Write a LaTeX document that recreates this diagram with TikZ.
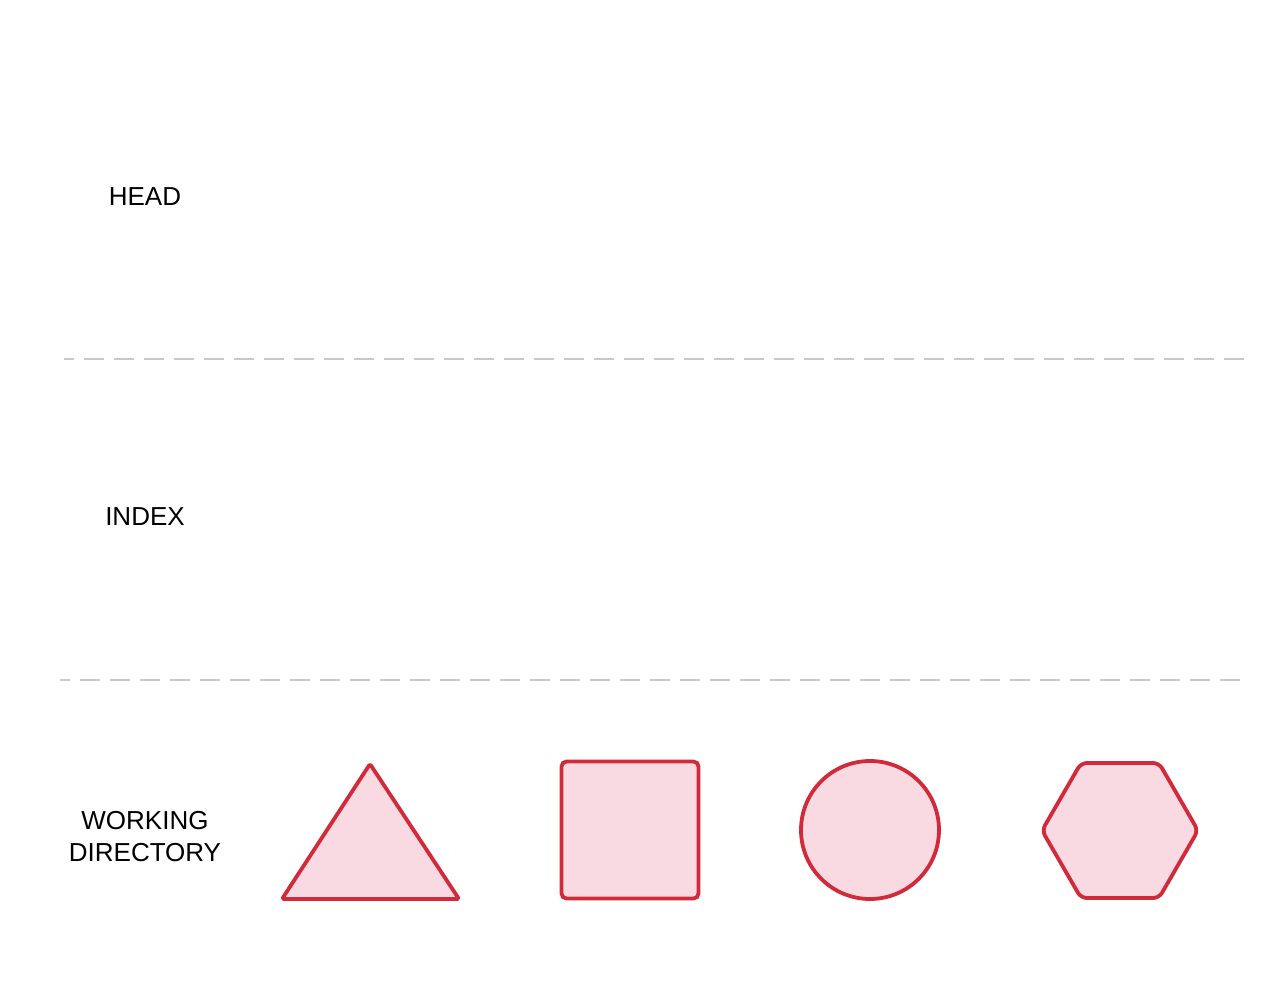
\documentclass[tikz,border=0pt]{standalone}
\usepackage{fontspec}
\setmainfont{Liberation Sans}
\usetikzlibrary{shapes.geometric}
\definecolor{cRed}{HTML}{D12B3B}
\definecolor{cPink}{HTML}{F9DAE2}
\definecolor{cSep}{HTML}{C9C9C9}
\tikzset{
  zone/.style={font=\fontsize{26}{32}\selectfont, align=center, inner sep=0pt},
  sep/.style={cSep, line width=2pt, dash pattern=on 20pt off 10pt, dash phase=10pt},
  obj/.style={draw=cRed, fill=cPink, line width=3.8pt, inner sep=0pt},
}
\begin{document}
\begin{tikzpicture}[x=1pt, y=-1pt]
\useasboundingbox (0,0) rectangle (1280,1007);
% ---------------------------------------------------------------- zones
\node[zone] (head) at (145,197) {HEAD};
\node[zone] (index) at (145,517) {INDEX};
\node[zone] (work) at (145,837) {WORKING\\DIRECTORY};
% ---------------------------------------------------------------- separators
\coordinate (s1a) at (64,359);
\coordinate (s1b) at (1244,359);
\coordinate (s2a) at (60,680);
\coordinate (s2b) at (1240,680);
\draw[sep] (s1a) -- (s1b);
\draw[sep] (s2a) -- (s2b);
% ---------------------------------------------------------------- files
\coordinate (tA) at (370,764);
\coordinate (tB) at (459,899);
\coordinate (tC) at (282,899);
\draw[obj, line join=round, rounded corners=2pt] (tA) -- (tB) -- (tC) -- cycle;
\node[obj, rectangle, rounded corners=5pt, minimum size=137pt] (sq) at (630,830) {};
\node[obj, circle, minimum size=138pt] (circ) at (870,830) {};
\node[obj, regular polygon, regular polygon sides=6,
  rounded corners=6pt, minimum size=156pt] (hex) at (1120,830.5) {};
\end{tikzpicture}
\end{document}
